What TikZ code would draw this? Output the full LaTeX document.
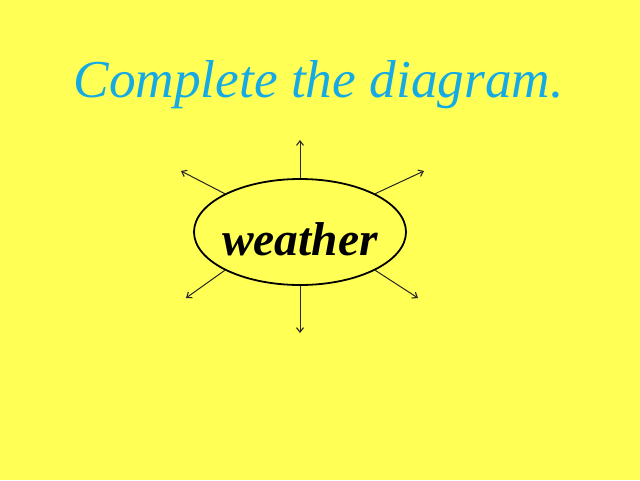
\documentclass[tikz,border=0pt]{standalone}
\usepackage{fontspec}
\setmainfont{Liberation Serif}
\usetikzlibrary{arrows.meta,shapes.geometric}
\definecolor{bgyellow}{RGB}{255,255,85}
\definecolor{titleblue}{RGB}{22,170,228}
\begin{document}
\begin{tikzpicture}[x=1pt,y=-1pt,
  spoke/.style={line width=1pt, draw=black!85, -{Straight Barb[length=4.5pt,width=7pt,line width=1.1pt]}},
  bubble/.style={ellipse, draw=black, line width=1.8pt, minimum width=212pt, minimum height=106pt, inner sep=0pt}]
\fill[bgyellow] (0,0) rectangle (640,480);
\useasboundingbox (0,0) rectangle (640,480);
\node[anchor=base, text=titleblue, font=\fontsize{53.3}{60}\selectfont\itshape, inner sep=0pt] (title) at (318.5,97) {Complete the diagram.};
\node[bubble] (w) at (300,232) {};
\node[anchor=base, font=\fontsize{47.5}{52}\selectfont\bfseries\itshape, inner sep=0pt] (lbl) at (300,255) {weather};
\coordinate (tn) at (300,140);
\coordinate (ts) at (300,333);
\coordinate (tnw) at (181,171);
\coordinate (tne) at (424,171);
\coordinate (tsw) at (186,298);
\coordinate (tse) at (418,298);
\draw[spoke] (w.north) -- (tn);
\draw[spoke] (w.south) -- (ts);
\draw[spoke] (w.153) -- (tnw);
\draw[spoke] (w.27) -- (tne);
\draw[spoke] (w.207) -- (tsw);
\draw[spoke] (w.333) -- (tse);
\end{tikzpicture}
\end{document}
